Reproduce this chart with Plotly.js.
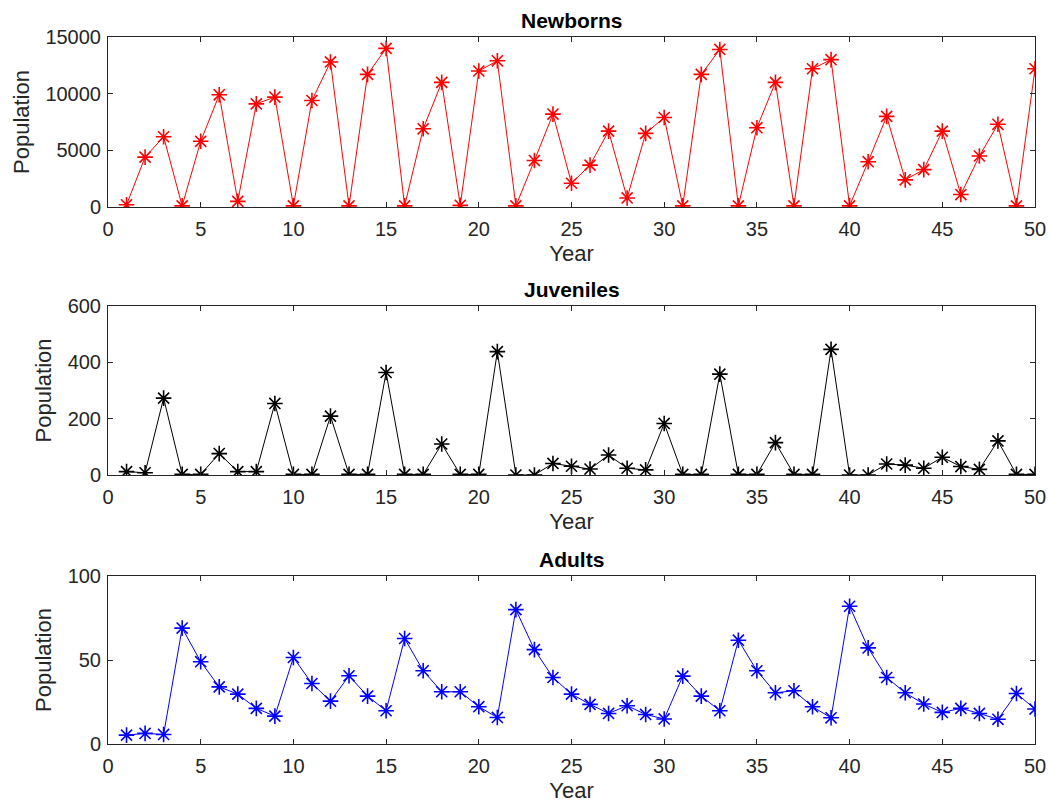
<!DOCTYPE html>
<html>
<head>
<meta charset="utf-8">
<script src="https://cdn.plot.ly/plotly-3.0.1.min.js"></script>
<style>html,body{margin:0;padding:0;background:#fff;}#chart{width:1048px;height:808px;}</style>
</head>
<body>
<div id="chart"></div>
<script>
const years = Array.from({length: 50}, (_, i) => i + 1);
const newborns = [200, 4400, 6200, 100, 5800, 9900, 500, 9100, 9700, 100,
  9400, 12800, 100, 11700, 14000, 100, 6900, 11000, 150, 12000,
  12900, 100, 4100, 8200, 2100, 3700, 6700, 800, 6500, 7900,
  100, 11700, 13900, 100, 7000, 11000, 100, 12200, 13000, 100,
  4000, 8000, 2400, 3300, 6700, 1100, 4500, 7300, 100, 12200];
const juveniles = [12, 8, 273, 2, 2, 76, 12, 12, 254, 2,
  2, 209, 2, 2, 364, 2, 2, 110, 2, 2,
  438, 0, 0, 41, 31, 21, 71, 24, 18, 183,
  2, 2, 358, 2, 2, 115, 2, 2, 446, 0,
  0, 39, 35, 24, 63, 30, 20, 121, 2, 2];
const adults = [5.3, 6.3, 5.7, 69, 49, 34, 29.7, 21.2, 16.6, 51.5,
  36, 25.5, 40.6, 28.5, 19.8, 62.8, 43.6, 31.1, 31.1, 22.2,
  15.8, 80, 56.2, 39.6, 29.7, 23.6, 18.2, 22.8, 17.6, 14.9,
  40.4, 28.5, 19.8, 61.8, 43.6, 30.5, 31.7, 22.2, 15.6, 82,
  57.2, 39.6, 30.5, 23.8, 18.8, 21.2, 18.2, 14.7, 30.1, 20.8];
const titles = ["Newborns", "Juveniles", "Adults"];
const xTicks = [0, 5, 10, 15, 20, 25, 30, 35, 40, 45, 50];

const FONT = "Liberation Sans, Arial, sans-serif";
const AX = "#262626";

function trace(y, color, xa, ya) {
  return {
    x: years, y: y, xaxis: xa, yaxis: ya, type: "scatter", mode: "lines+markers",
    line: {color: color, width: 1},
    marker: {symbol: "asterisk-open", size: 13, color: color, line: {color: color, width: 1.6}},
    hoverinfo: "x+y", showlegend: false
  };
}
const data = [
  trace(newborns, "#ff0000", "x", "y"),
  trace(juveniles, "#000000", "x2", "y2"),
  trace(adults, "#0000ff", "x3", "y3")
];

function xaxis(anchor) {
  return {
    anchor: anchor, domain: [0, 1], range: [0, 50], tickvals: xTicks,
    ticks: "inside", ticklen: 5, tickcolor: AX, showline: true, linecolor: AX, linewidth: 1,
    mirror: "ticks", showgrid: false, zeroline: false, ticklabelstandoff: 4,
    tickfont: {family: FONT, size: 20, color: AX},
    title: {text: "Year", font: {family: FONT, size: 22, color: AX}, standoff: 6}
  };
}
function yaxis(anchor, domain, range, dtick) {
  return {
    anchor: anchor, domain: domain, range: range, dtick: dtick, tickformat: "d",
    ticks: "inside", ticklen: 5, tickcolor: AX, showline: true, linecolor: AX, linewidth: 1,
    mirror: "ticks", showgrid: false, zeroline: false, ticklabelstandoff: 2,
    tickfont: {family: FONT, size: 20, color: AX},
    title: {text: "Population", font: {family: FONT, size: 22, color: AX}, standoff: 9}
  };
}
const d1 = [0.7595, 1], d2 = [0.3805, 0.6195], d3 = [0, 0.2376];
const layout = {
  width: 1048, height: 808,
  margin: {l: 108, r: 12.5, t: 37, b: 64},
  paper_bgcolor: "#ffffff", plot_bgcolor: "#ffffff",
  font: {family: FONT, color: AX},
  xaxis: xaxis("y"), yaxis: yaxis("x", d1, [0, 15000], 5000),
  xaxis2: xaxis("y2"), yaxis2: yaxis("x2", d2, [0, 600], 200),
  xaxis3: xaxis("y3"), yaxis3: yaxis("x3", d3, [0, 100], 50),
  annotations: [d1, d2, d3].map((d, i) => ({
    text: "<b>" + titles[i] + "</b>", xref: "paper", yref: "paper", x: 0.5, y: d[1],
    xanchor: "center", yanchor: "bottom", yshift: 3, showarrow: false,
    font: {family: FONT, size: 21, color: "#000"}
  }))
};
Plotly.newPlot("chart", data, layout, {displayModeBar: false, staticPlot: true});
</script>
</body>
</html>
